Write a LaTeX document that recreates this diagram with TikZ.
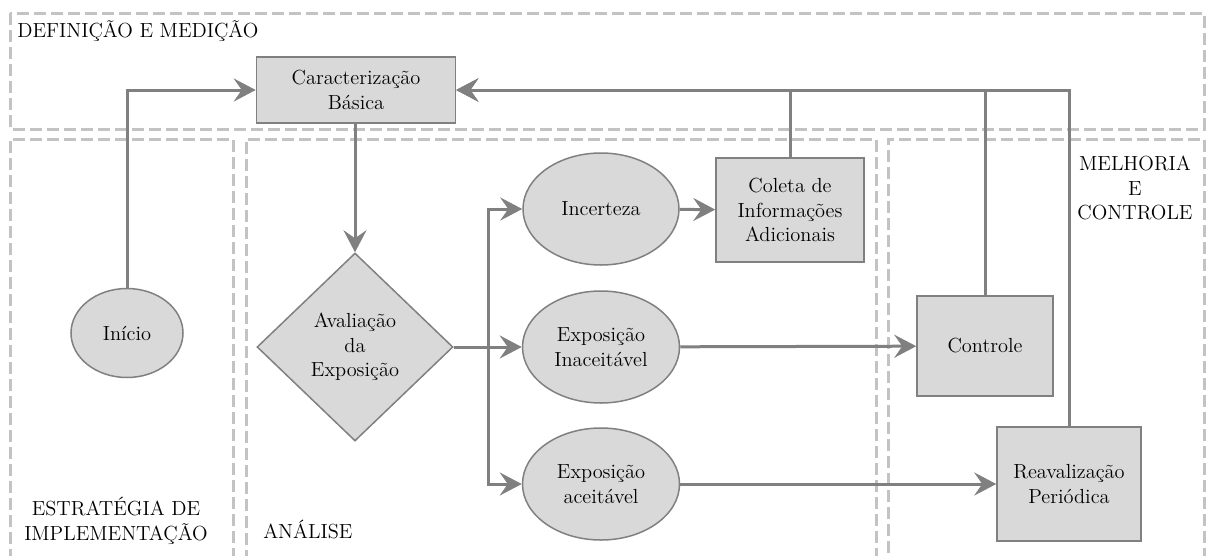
\documentclass[tikz,border=0pt]{standalone}
\usetikzlibrary{arrows.meta, positioning, shapes.geometric}
\definecolor{boxfill}{HTML}{D9D9D9}
\definecolor{boxedge}{HTML}{808080}
\definecolor{zoneedge}{HTML}{C3C3C3}
\newcommand\px{0.025cm}
\begin{document}
\begin{tikzpicture}[
  x=0.025cm, y=-0.025cm,
  font=\fontsize{14.5}{17.5}\selectfont,
  box/.style={draw=boxedge, fill=boxfill, line width=1.5*\px, align=center, inner sep=0pt},
  oval/.style={box, ellipse},
  decision/.style={box, diamond},
  zone/.style={draw=zoneedge, line width=3*\px, dash pattern=on 12*\px off 5*\px},
  arrow/.style={draw=boxedge, line width=3*\px, -{Stealth[length=22*\px, width=23*\px, inset=8*\px]}},
  link/.style={draw=boxedge, line width=3*\px}
]
\useasboundingbox (0,0) rectangle (1206,555);
\draw[zone] (10,13) rectangle (1204,129);
\draw[zone] (233,560) |- (10,139) -- (10,560);
\draw[zone] (876,560) |- (246,139) -- (246,560);
\draw[zone] (1204,560) |- (888,139) -- (888,560);
\node[anchor=base west, inner sep=0pt] (tdef) at (17,37) {DEFINIÇÃO E MEDIÇÃO};
\node[align=center, inner sep=0pt] (tmel) at (1135,188) {MELHORIA\\E\\CONTROLE};
\node[align=center, inner sep=0pt] (test) at (116,521) {ESTRATÉGIA DE\\IMPLEMENTAÇÃO};
\node[anchor=base west, inner sep=0pt] (tana) at (263,538) {ANÁLISE};
\node[box, minimum width=199*\px, minimum height=66*\px] (carac) at (356,90) {Caracterização\\Básica};
\node[oval, minimum width=112*\px, minimum height=89*\px] (inicio) at (127,333) {Início};
\node[decision, minimum width=196*\px, minimum height=188*\px] (aval) at (355,347) {Avaliação\\da\\Exposição};
\node[oval, minimum width=156*\px, minimum height=112*\px] (incert) at (601,209) {Incerteza};
\node[oval, minimum width=157*\px, minimum height=112*\px] (inac) at (601,347) {Exposição\\Inaceitável};
\node[oval, minimum width=157*\px, minimum height=112*\px] (aceit) at (601,484) {Exposição\\aceitável};
\node[box, minimum width=148*\px, minimum height=104*\px] (coleta) at (790,210) {Coleta de\\Informações\\Adicionais};
\node[box, minimum width=136*\px, minimum height=100*\px] (controle) at (985,346) {Controle};
\node[box, minimum width=144*\px, minimum height=114*\px] (reaval) at (1069,484) {Reavalização\\Periódica};
\coordinate (branch) at (488,347);
\draw[arrow] (inicio.north) |- (carac.west);
\draw[arrow] (carac.south -| aval.north) -- (aval.north);
\draw[arrow] (aval.east) -- (inac.west);
\draw[arrow] (branch) |- (incert.west);
\draw[arrow] (branch) |- (aceit.west);
\draw[arrow] (incert) -- (coleta);
\draw[arrow] (inac) -- (controle);
\draw[arrow] (aceit) -- (reaval);
\draw[arrow] (coleta.north) |- (carac.east);
\draw[arrow] (controle.north) |- (carac.east);
\draw[arrow] (reaval.north) |- (carac.east);
\end{tikzpicture}
\end{document}
